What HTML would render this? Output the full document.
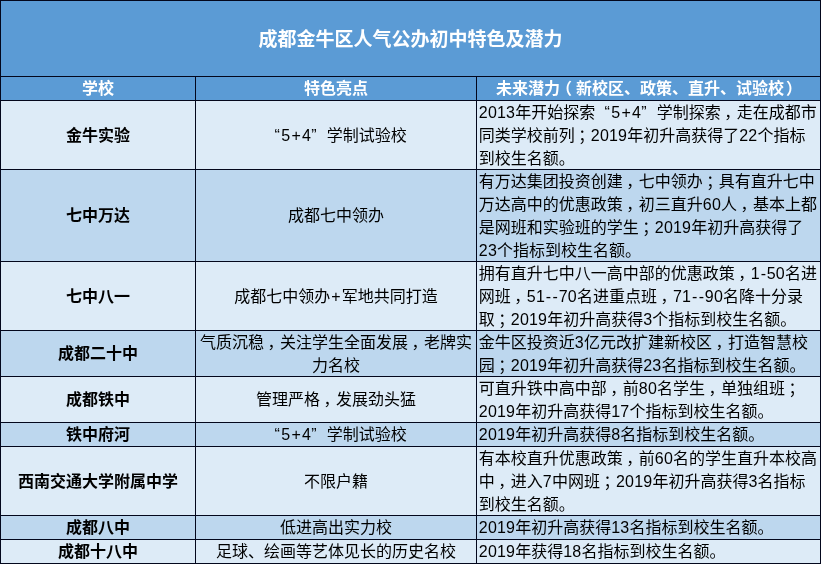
<!DOCTYPE html>
<html lang="zh-CN">
<head>
<meta charset="utf-8">
<title>成都金牛区人气公办初中特色及潜力</title>
<style>
html,body{margin:0;padding:0;}
body{width:821px;height:564px;overflow:hidden;background:#fff;
 font-family:"Liberation Sans","Noto Sans CJK SC",sans-serif;font-size:16px;color:#000;}
table{border-collapse:separate;border-spacing:1px;table-layout:fixed;width:821px;height:564px;
 background:#03071c;margin:0;padding:0;border:0;}
col.c1{width:194px;} col.c2{width:280px;} col.c3{width:343px;}
th,td{padding:0;margin:0;border:0;vertical-align:top;font-weight:normal;text-align:center;overflow:hidden;}
th{background:#5b9bd5;color:#fff;font-weight:bold;}
tr.a td{background:#ddebf7;}
tr.b td{background:#bdd7ee;}
td.n{font-weight:bold;}
td.d{text-align:left;}
.c{position:relative;overflow:hidden;white-space:nowrap;}
.c p{position:absolute;left:0;right:0;margin:0;height:23px;line-height:23px;}
td.d .c p{left:1.8px;}
.ttl p{height:75px;line-height:75px;font-size:19px;}

.ql{display:inline-block;width:14.5px;padding-right:1.5px;text-align:right;}
.qr{display:inline-block;width:15.5px;text-align:left;}
.g{letter-spacing:.2px;}
.y{margin:0 .75px;}
.p{margin:0 1.2px;}
.k{position:relative;left:3.5px;}
.pl{position:relative;left:-4px;}
.pr{position:relative;left:2px;}
</style>
</head>
<body>
<table>
<colgroup><col class="c1"><col class="c2"><col class="c3"></colgroup>
<thead>
<tr style="height:75px"><th colspan="3" class="ttl"><div class="c" style="height:75px"><p style="top:1px">成都金牛区人气公办初中特色及潜力</p></div></th></tr>
<tr style="height:23px"><th><div class="c" style="height:23px"><p style="top:0px">学校</p></div></th><th><div class="c" style="height:23px"><p style="top:0px">特色亮点</p></div></th><th><div class="c" style="height:23px"><p style="top:0px;left:-1px">未来潜力<span class="pl">（</span>新校区、政策、直升、试验校<span class="pr">）</span></p></div></th></tr>
</thead>
<tbody>
<tr class="a" style="height:68px"><td class="n"><div class="c" style="height:68px"><p style="top:22.5px">金牛实验</p></div></td><td class="m"><div class="c" style="height:68px"><p style="top:22.5px"><span class="ql">“</span><span class="g">5</span><span class="p">+</span><span class="g">4</span><span class="qr">”</span>学制试验校</p></div></td><td class="d"><div class="c" style="height:68px"><p style="top:-0.5px"><span class="g">2013</span>年开始探索<span class="ql">“</span><span class="g">5</span><span class="p">+</span><span class="g">4</span><span class="qr">”</span>学制探索<span class="k">，</span>走在成都市</p><p style="top:22.5px">同类学校前列<span class="k">；</span><span class="g">2019</span>年初升高获得了<span class="g">22</span>个指标</p><p style="top:45.5px">到校生名额。</p></div></td></tr>
<tr class="b" style="height:91px"><td class="n"><div class="c" style="height:91px"><p style="top:34px">七中万达</p></div></td><td class="m"><div class="c" style="height:91px"><p style="top:34px">成都七中领办</p></div></td><td class="d"><div class="c" style="height:91px"><p style="top:-0.5px">有万达集团投资创建<span class="k">，</span>七中领办<span class="k">；</span>具有直升七中</p><p style="top:22.5px">万达高中的优惠政策<span class="k">，</span>初三直升<span class="g">60</span>人<span class="k">，</span>基本上都</p><p style="top:45.5px">是网班和实验班的学生<span class="k">；</span><span class="g">2019</span>年初升高获得了</p><p style="top:68.5px"><span class="g">23</span>个指标到校生名额。</p></div></td></tr>
<tr class="a" style="height:68px"><td class="n"><div class="c" style="height:68px"><p style="top:22.5px">七中八一</p></div></td><td class="m"><div class="c" style="height:68px"><p style="top:22.5px">成都七中领办<span class="p">+</span>军地共同打造</p></div></td><td class="d"><div class="c" style="height:68px"><p style="top:-0.5px">拥有直升七中八一高中部的优惠政策<span class="k">，</span><span class="g">1</span><span class="y">-</span><span class="g">50</span>名进</p><p style="top:22.5px">网班<span class="k">，</span><span class="g">51</span><span class="y">-</span><span class="y">-</span><span class="g">70</span>名进重点班<span class="k">，</span><span class="g">71</span><span class="y">-</span><span class="y">-</span><span class="g">90</span>名降十分录</p><p style="top:45.5px">取<span class="k">；</span><span class="g">2019</span>年初升高获得<span class="g">3</span>个指标到校生名额。</p></div></td></tr>
<tr class="b" style="height:45px"><td class="n"><div class="c" style="height:45px"><p style="top:11px">成都二十中</p></div></td><td class="m"><div class="c" style="height:45px"><p style="top:-0.5px">气质沉稳<span class="k">，</span>关注学生全面发展<span class="k">，</span>老牌实</p><p style="top:22.5px">力名校</p></div></td><td class="d"><div class="c" style="height:45px"><p style="top:-0.5px">金牛区投资近<span class="g">3</span>亿元改扩建新校区<span class="k">，</span>打造智慧校</p><p style="top:22.5px">园<span class="k">；</span><span class="g">2019</span>年初升高获得<span class="g">23</span>名指标到校生名额。</p></div></td></tr>
<tr class="a" style="height:45px"><td class="n"><div class="c" style="height:45px"><p style="top:11px">成都铁中</p></div></td><td class="m"><div class="c" style="height:45px"><p style="top:11px">管理严格<span class="k">，</span>发展劲头猛</p></div></td><td class="d"><div class="c" style="height:45px"><p style="top:-0.5px">可直升铁中高中部<span class="k">，</span>前<span class="g">80</span>名学生<span class="k">，</span>单独组班<span class="k">；</span></p><p style="top:22.5px"><span class="g">2019</span>年初升高获得<span class="g">17</span>个指标到校生名额。</p></div></td></tr>
<tr class="b" style="height:23px"><td class="n"><div class="c" style="height:23px"><p style="top:0px">铁中府河</p></div></td><td class="m"><div class="c" style="height:23px"><p style="top:0px"><span class="ql">“</span><span class="g">5</span><span class="p">+</span><span class="g">4</span><span class="qr">”</span>学制试验校</p></div></td><td class="d"><div class="c" style="height:23px"><p style="top:0px"><span class="g">2019</span>年初升高获得<span class="g">8</span>名指标到校生名额。</p></div></td></tr>
<tr class="a" style="height:68px"><td class="n"><div class="c" style="height:68px"><p style="top:22.5px">西南交通大学附属中学</p></div></td><td class="m"><div class="c" style="height:68px"><p style="top:22.5px">不限户籍</p></div></td><td class="d"><div class="c" style="height:68px"><p style="top:-0.5px">有本校直升优惠政策<span class="k">，</span>前<span class="g">60</span>名的学生直升本校高</p><p style="top:22.5px">中<span class="k">，</span>进入<span class="g">7</span>中网班<span class="k">；</span><span class="g">2019</span>年初升高获得<span class="g">3</span>名指标</p><p style="top:45.5px">到校生名额。</p></div></td></tr>
<tr class="b" style="height:23px"><td class="n"><div class="c" style="height:23px"><p style="top:0px">成都八中</p></div></td><td class="m"><div class="c" style="height:23px"><p style="top:0px">低进高出实力校</p></div></td><td class="d"><div class="c" style="height:23px"><p style="top:0px"><span class="g">2019</span>年初升高获得<span class="g">13</span>名指标到校生名额。</p></div></td></tr>
<tr class="a" style="height:23px"><td class="n"><div class="c" style="height:23px"><p style="top:0px">成都十八中</p></div></td><td class="m"><div class="c" style="height:23px"><p style="top:0px">足球、绘画等艺体见长的历史名校</p></div></td><td class="d"><div class="c" style="height:23px"><p style="top:0px"><span class="g">2019</span>年获得<span class="g">18</span>名指标到校生名额。</p></div></td></tr>
</tbody>
</table>
</body>
</html>
